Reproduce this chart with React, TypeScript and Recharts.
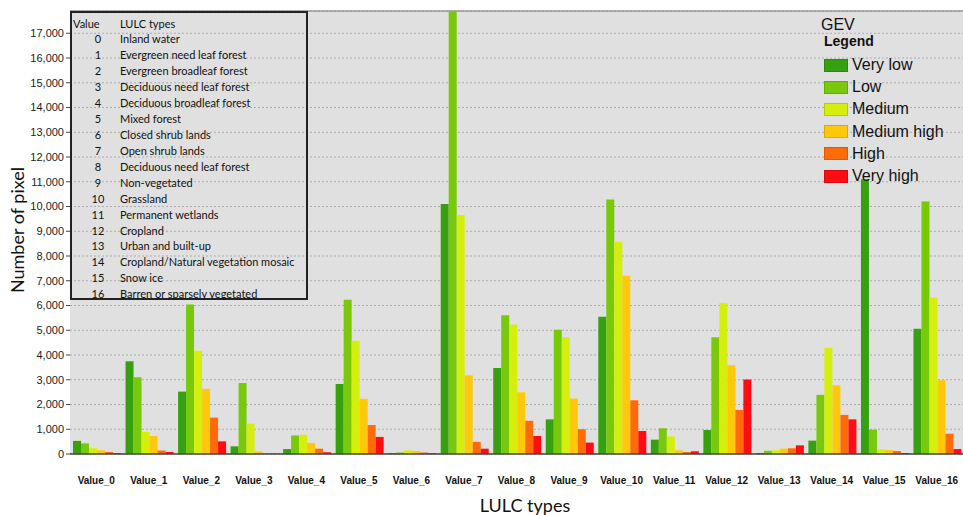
import { BarChart, Bar, XAxis, YAxis, CartesianGrid, ReferenceLine } from 'recharts'

const CATEGORIES = [
  'Value_0', 'Value_1', 'Value_2', 'Value_3', 'Value_4', 'Value_5', 'Value_6', 'Value_7', 'Value_8',
  'Value_9', 'Value_10', 'Value_11', 'Value_12', 'Value_13', 'Value_14', 'Value_15', 'Value_16',
]

const VERY_LOW = [530, 3750, 2520, 310, 200, 2830, 30, 10100, 3470, 1400, 5550, 580, 970, 40, 540, 11100, 5060]
const LOW = [430, 3100, 6040, 2870, 750, 6230, 60, 18500, 5610, 5020, 10280, 1040, 4720, 130, 2390, 985, 10200]
const MEDIUM = [230, 890, 4170, 1230, 780, 4580, 150, 9660, 5230, 4720, 8580, 710, 6100, 150, 4290, 190, 6320]
const MEDIUM_HIGH = [150, 730, 2630, 100, 450, 2230, 120, 3180, 2490, 2240, 7200, 150, 3590, 215, 2770, 160, 2980]
const HIGH = [80, 140, 1470, 10, 215, 1170, 60, 490, 1340, 1000, 2170, 80, 1780, 230, 1580, 120, 820]
const VERY_HIGH = [40, 80, 510, 10, 70, 690, 30, 215, 730, 460, 930, 110, 3010, 350, 1400, 40, 200]

const Y_TICKS = [0, 1000, 2000, 3000, 4000, 5000, 6000, 7000, 8000, 9000, 10000, 11000, 12000, 13000, 14000, 15000, 16000, 17000]

const LULC_CODES = ['0', '1', '2', '3', '4', '5', '6', '7', '8', '9', '10', '11', '12', '13', '14', '15', '16']
const LULC_NAMES = [
  'Inland water',
  'Evergreen need leaf forest',
  'Evergreen broadleaf forest',
  'Deciduous need leaf forest',
  'Deciduous broadleaf forest',
  'Mixed forest',
  'Closed shrub lands',
  'Open shrub lands',
  'Deciduous need leaf forest',
  'Non-vegetated',
  'Grassland',
  'Permanent wetlands',
  'Cropland',
  'Urban and built-up',
  'Cropland/Natural vegetation mosaic',
  'Snow ice',
  'Barren or sparsely vegetated',
]

const SERIES = [
  { key: 'veryLow', name: 'Very low', color: '#36a010', values: VERY_LOW },
  { key: 'low', name: 'Low', color: '#78c80c', values: LOW },
  { key: 'medium', name: 'Medium', color: '#d6ee0c', values: MEDIUM },
  { key: 'mediumHigh', name: 'Medium high', color: '#ffc80a', values: MEDIUM_HIGH },
  { key: 'high', name: 'High', color: '#ff6a0a', values: HIGH },
  { key: 'veryHigh', name: 'Very high', color: '#ff0d12', values: VERY_HIGH },
]

const data = CATEGORIES.map((name, i) => {
  const row: Record<string, number | string> = { name }
  SERIES.forEach(s => { row[s.key] = s.values[i] })
  return row
})

const fmt = (v: number) => v.toLocaleString('en-US')

function XTick(props: any) {
  const { x, y, payload } = props
  return (
    <text x={x} y={y + 19} textAnchor="middle" dominantBaseline="middle"
      fontFamily="Liberation Sans, Arial" fontSize={10} fontWeight="bold" fill="#111">
      {payload.value}
    </text>
  )
}

export default function App() {
  return (
    <div style={{ position: 'absolute', left: 0, top: 0, width: 963, height: 515, background: '#fff' }}>
      <BarChart width={963} height={515} data={data}
        margin={{ top: 11, right: 0, bottom: 0, left: 0 }}
        barCategoryGap={3} barGap={0}>
        <CartesianGrid vertical={false} stroke="#acacac" strokeDasharray="2 2" fill="#e0e0e0" />
        <XAxis dataKey="name" interval={0} tick={<XTick />} tickLine={false}
          axisLine={{ stroke: '#444', strokeWidth: 1.5 }} height={61} />
        <YAxis width={70} domain={[0, 17900]} ticks={Y_TICKS} interval={0} allowDataOverflow
          tickFormatter={fmt} tickSize={4} tickLine={{ stroke: '#444' }} axisLine={false}
          tick={{ fontFamily: 'Liberation Sans, Arial', fontSize: 11, fill: '#222' }} />
        <ReferenceLine y={17900} stroke="#999" strokeWidth={1.5} />
        {SERIES.map(s => (
          <Bar key={s.key} dataKey={s.key} name={s.name} fill={s.color} isAnimationActive={false} />
        ))}
      </BarChart>

      <div style={{
        position: 'absolute', left: 70, top: 11, width: 234, height: 285,
        border: '2px solid #222', fontFamily: 'Lato, sans-serif', fontSize: 11, color: '#111',
      }}>
        <div style={{ position: 'absolute', left: 1, top: 4, lineHeight: '14px' }}>Value</div>
        <div style={{ position: 'absolute', left: 48, top: 4, lineHeight: '14px' }}>LULC types</div>
        {LULC_CODES.map((code, i) => (
          <div key={code} style={{ position: 'absolute', top: 18 + i * 15.96, left: 0, height: 16, lineHeight: '16px', width: 234 }}>
            <span style={{ position: 'absolute', left: 16, width: 20, textAlign: 'center' }}>{code}</span>
            <span style={{ position: 'absolute', left: 48, whiteSpace: 'nowrap' }}>{LULC_NAMES[i]}</span>
          </div>
        ))}
      </div>

      <div style={{ position: 'absolute', left: 821, top: 17, width: 140, fontFamily: 'Liberation Sans, Arial', color: '#111' }}>
        <div style={{ fontSize: 16, lineHeight: '16px' }}>GEV</div>
        <div style={{ fontSize: 14, fontWeight: 'bold', marginLeft: 3, lineHeight: '16px', marginBottom: 5 }}>Legend</div>
        {SERIES.map(s => (
          <div key={s.key} style={{ display: 'flex', alignItems: 'center', height: 22.2, marginLeft: 3 }}>
            <span style={{ width: 22, height: 11, background: s.color, border: '1px solid rgba(0,0,0,0.15)', marginRight: 4 }} />
            <span style={{ fontSize: 16 }}>{s.name}</span>
          </div>
        ))}
      </div>

      <div style={{
        position: 'absolute', left: 17, top: 230, transform: 'translate(-50%, -50%) rotate(-90deg)',
        fontFamily: 'Lato, sans-serif', fontSize: 18, whiteSpace: 'nowrap', color: '#111',
      }}>Number of pixel</div>
      <div style={{
        position: 'absolute', left: 525, top: 505, transform: 'translate(-50%, -50%)',
        fontFamily: 'Lato, sans-serif', fontSize: 18, whiteSpace: 'nowrap', color: '#111',
      }}>LULC types</div>
    </div>
  )
}
